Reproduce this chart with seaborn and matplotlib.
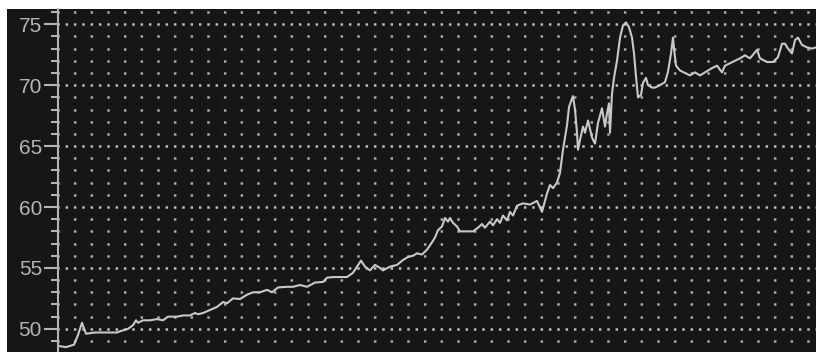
import matplotlib
matplotlib.use("Agg")
import matplotlib.pyplot as plt
from matplotlib.patches import Rectangle
from matplotlib.ticker import MultipleLocator
import seaborn as sns
import pandas as pd

# position along the record (no x labels in the original) and the reading
t = [0, 8, 16, 20, 24, 28, 37, 47, 59, 62, 70, 75, 78, 80, 85, 92, 99, 105,
     110, 119, 125, 132, 137, 140, 145, 152, 159, 165, 169, 175, 182, 189,
     195, 202, 209, 214, 220, 229, 235, 242, 249, 257, 265, 269, 275, 282,
     289, 295, 299, 303, 307, 312, 317, 322, 325, 332, 339, 345, 350, 355,
     359, 364, 369, 374, 377, 380, 384, 387, 390, 392, 395, 399, 402, 409,
     415, 420, 424, 427, 432, 435, 439, 442, 445, 449, 452, 455, 459, 465,
     472, 479, 484, 489, 492, 495, 499, 502, 505, 509, 511, 514, 515, 517,
     519, 520, 522, 525, 527, 530, 534, 537, 540, 544, 547, 549, 551, 552,
     554, 556, 559, 562, 565, 568, 571, 574, 576, 578, 580, 583, 585, 588,
     590, 594, 597, 602, 607, 610, 613, 615, 616, 618, 622, 627, 632, 637,
     642, 649, 654, 659, 664, 667, 672, 677, 682, 687, 692, 699, 702, 709,
     715, 720, 724, 727, 730, 734, 737, 740, 744, 749, 754, 758]

level = [48.6, 48.5, 48.7, 49.5, 50.5, 49.6, 49.7, 49.7, 49.7, 49.8, 50.0,
         50.3, 50.7, 50.5, 50.7, 50.7, 50.8, 50.7, 51.0, 51.0, 51.1, 51.1,
         51.3, 51.2, 51.3, 51.55, 51.8, 52.2, 52.1, 52.5, 52.45, 52.8, 53.0,
         53.0, 53.2, 53.0, 53.4, 53.45, 53.45, 53.6, 53.45, 53.8, 53.85,
         54.2, 54.25, 54.25, 54.25, 54.6, 55.1, 55.6, 55.1, 54.8, 55.25,
         55.0, 54.8, 55.1, 55.25, 55.65, 55.9, 56.0, 56.2, 56.1, 56.5, 57.1,
         57.5, 58.1, 58.4, 59.1, 58.8, 59.1, 58.7, 58.4, 58.0, 58.0, 58.0,
         58.3, 58.6, 58.3, 58.8, 58.5, 59.0, 58.7, 59.3, 58.9, 59.6, 59.3,
         60.1, 60.3, 60.2, 60.5, 59.6, 61.1, 61.8, 61.55, 62.0, 62.8, 64.7,
         66.7, 68.2, 68.9, 69.1, 68.0, 66.1, 64.7, 65.5, 66.6, 66.1, 67.1,
         65.7, 65.2, 66.9, 68.1, 66.6, 67.7, 68.5, 66.1, 69.3, 70.6, 72.0,
         73.9, 74.9, 75.15, 74.75, 73.9, 72.6, 70.7, 69.0, 69.2, 70.2, 70.6,
         70.0, 69.8, 69.8, 70.0, 70.25, 71.1, 72.6, 73.9, 73.0, 71.6, 71.2,
         71.0, 70.8, 71.05, 70.8, 71.15, 71.4, 71.6, 71.05, 71.6, 71.8, 72.0,
         72.2, 72.45, 72.2, 72.9, 72.2, 71.9, 71.9, 72.3, 73.4, 73.4, 73.0,
         72.6, 73.7, 73.9, 73.3, 73.1, 73.0, 73.1]

y_ticks = [50, 55, 60, 65, 70, 75]

bg = "#161616"
fg = "#b4b4b4"

sns.set_style("dark", {"axes.facecolor": bg})
plt.rcParams["font.family"] = ["Liberation Sans", "DejaVu Sans"]
plt.rcParams["lines.scale_dashes"] = False

df = pd.DataFrame({"t": t, "level": level})

fig = plt.figure(figsize=(8.16, 3.52), dpi=100, facecolor="white")
fig.add_artist(Rectangle((7 / 816, 0), 1, 343 / 352, transform=fig.transFigure,
                         facecolor=bg, edgecolor="none", zorder=0))
ax = fig.add_axes([58 / 816, 0, 758 / 816, 343 / 352])

sns.lineplot(data=df, x="t", y="level", ax=ax, color="#c8c8c8", linewidth=1.5)

ax.set_xlim(0, 758)
ax.set_ylim(48.1, 76.25)
ax.set_xticks([])
ax.set_yticks(y_ticks)
ax.yaxis.set_minor_locator(MultipleLocator(1))
ax.set_xlabel("")
ax.set_ylabel("")

ax.tick_params(axis="y", which="major", direction="out", length=10, width=1.5,
               color=fg, labelcolor=fg, labelsize=15, pad=1.5, left=True)
ax.tick_params(axis="y", which="minor", direction="out", length=5, width=1.5,
               color=fg, left=True)

ax.grid(False)
ax.grid(True, axis="y", which="major", color="#bdbdbd", linewidth=1.8,
        linestyle=(0.9, (1.8, 4.2)))
ax.grid(True, axis="y", which="minor", color="#a8a8a8", linewidth=1.8,
        linestyle=(0.9, (1.8, 10.2)))
ax.set_axisbelow(True)

for side in ["top", "right", "bottom"]:
    ax.spines[side].set_visible(False)
ax.spines["left"].set_color(fg)
ax.spines["left"].set_linewidth(1.5)

fig.savefig("out.png", dpi=100, facecolor="white")
